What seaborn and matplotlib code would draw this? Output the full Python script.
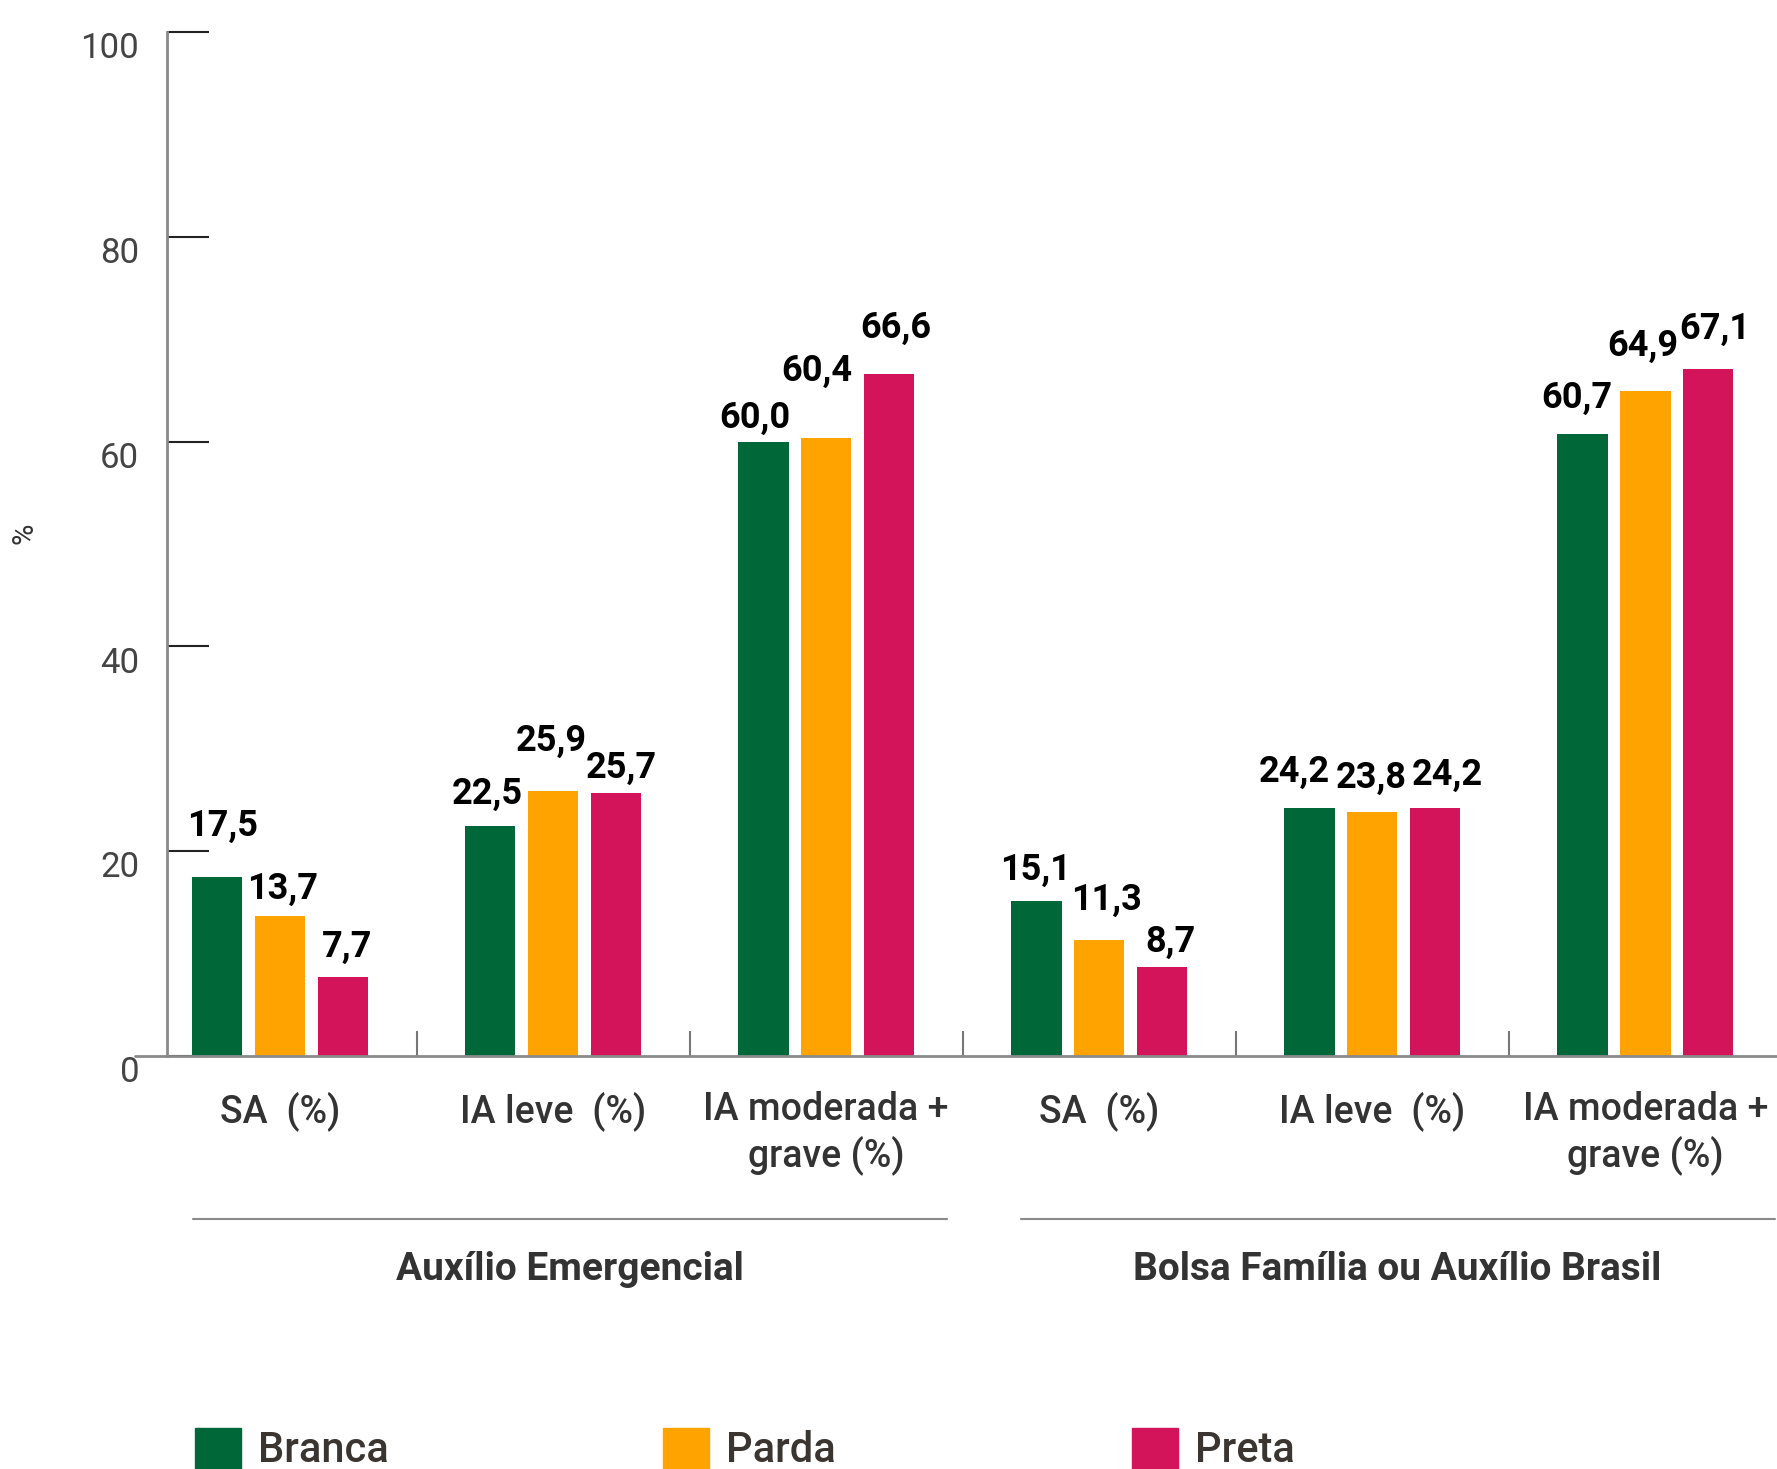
import pandas as pd
import matplotlib.pyplot as plt
import seaborn as sns
from matplotlib.patches import Rectangle
from matplotlib.lines import Line2D

# dados
grupos = ["Auxílio Emergencial", "Bolsa Família ou Auxílio Brasil"]
indicadores = ["SA  (%)", "IA leve  (%)", "IA moderada +\ngrave (%)"]
racas = ["Branca", "Parda", "Preta"]
branca = [17.5, 22.5, 60.0, 15.1, 24.2, 60.7]
parda = [13.7, 25.9, 60.4, 11.3, 23.8, 64.9]
preta = [7.7, 25.7, 66.6, 8.7, 24.2, 67.1]
yticks = [0, 20, 40, 60, 80, 100]

cores = {"Branca": "#006838", "Parda": "#FFA300", "Preta": "#D4145A"}

# deslocamento dos rótulos (pontos) em relação ao topo de cada barra
offsets = {
    "Branca": [(4, 37), (-2, 23), (-6, 17), (-1, 23), (-11, 26), (-4, 26)],
    "Parda": [(2, 19), (-1, 36), (-7, 48), (5, 29), (-1, 25), (-2, 33)],
    "Preta": [(3, 22), (4, 18), (5, 33), (6, 18), (9, 24), (5, 29)],
}

cats = [f"{g} | {i}" for g in grupos for i in indicadores]
df = pd.DataFrame({
    "cat": cats * 3,
    "raca": [r for r in racas for _ in cats],
    "valor": branca + parda + preta,
})

sns.set_style("white")
plt.rcParams['font.family'] = ['Roboto', 'DejaVu Sans']

fig = plt.figure(figsize=(17.77, 14.69), dpi=100)
ax = fig.add_axes([0.094, 1 - 1056 / 1469, 0.906, (1056 - 32) / 1469])

sns.barplot(data=df, x="cat", y="valor", hue="raca", order=cats, hue_order=racas,
            palette=cores, saturation=1, width=0.69, gap=0.2, linewidth=0,
            legend=False, ax=ax)

ax.set_xlim(-0.414, 5.482)
ax.set_ylim(0, 100)
ax.set_xlabel("")
ax.set_ylabel("")

# rótulos de valor
for raca, cont in zip(racas, ax.containers):
    for k, bar in enumerate(cont):
        v = bar.get_height()
        dx, dy = offsets[raca][k]
        ax.annotate(f"{v:.1f}".replace(".", ","),
                    xy=(bar.get_x() + bar.get_width() / 2, v),
                    xytext=(dx, dy), textcoords="offset points",
                    ha="center", va="center", fontsize=26, fontweight="bold",
                    color="black")

# eixos
for s in ["top", "right"]:
    ax.spines[s].set_visible(False)
ax.spines["left"].set_color("#8a8a8a")
ax.spines["left"].set_linewidth(2)
ax.spines["bottom"].set_color("#8a8a8a")
ax.spines["bottom"].set_linewidth(2)
ax.add_line(Line2D([-0.02, 0], [0, 0], transform=ax.transAxes, color="#8a8a8a",
                   lw=2, clip_on=False))

ax.set_yticks(yticks)
ax.set_yticklabels([])
ax.tick_params(axis="y", direction="in", length=30, width=1.5, color="#222222", left=True)
for v in yticks:
    ax.annotate(str(v), xy=(0, v), xycoords=ax.get_yaxis_transform(),
                xytext=(-20, -12), textcoords="offset points",
                ha="right", va="center", fontsize=25, color="#444444")

ax.set_xticks(range(6))
ax.set_xticklabels(indicadores * 2, fontsize=27, fontweight="medium",
                   color="#333333", linespacing=1.25)
ax.tick_params(axis="x", length=0, pad=25)
ax.set_xticks([0.5, 1.5, 2.5, 3.5, 4.5], minor=True)
ax.tick_params(axis="x", which="minor", direction="in", length=18, width=1.5,
               color="#777777", bottom=True)

fig.text(0.014, 1 - 533 / 1469, "%", rotation=90, ha="center", va="center",
         fontsize=21, color="#333333")

# grupos
for (x0, x1, xc), g in zip([(193, 947, 570), (1021, 1775, 1397)], grupos):
    fig.add_artist(Line2D([x0 / 1777, x1 / 1777], [1 - 1219 / 1469] * 2,
                          color="#8a8a8a", lw=1.5))
    fig.text(xc / 1777, 1 - 1269 / 1469, g, ha="center", va="center",
             fontsize=28, fontweight="bold", color="#333333")

# legenda
for x0, r in zip([195, 663, 1132], racas):
    fig.add_artist(Rectangle((x0 / 1777, 1 - 1474 / 1469), 46 / 1777, 46 / 1469,
                             color=cores[r], transform=fig.transFigure))
    fig.text((x0 + 63) / 1777, 1 - 1451 / 1469, r, ha="left", va="center",
             fontsize=30, fontweight="medium", color="#3a3530")

fig.savefig("out.png", dpi=100)
